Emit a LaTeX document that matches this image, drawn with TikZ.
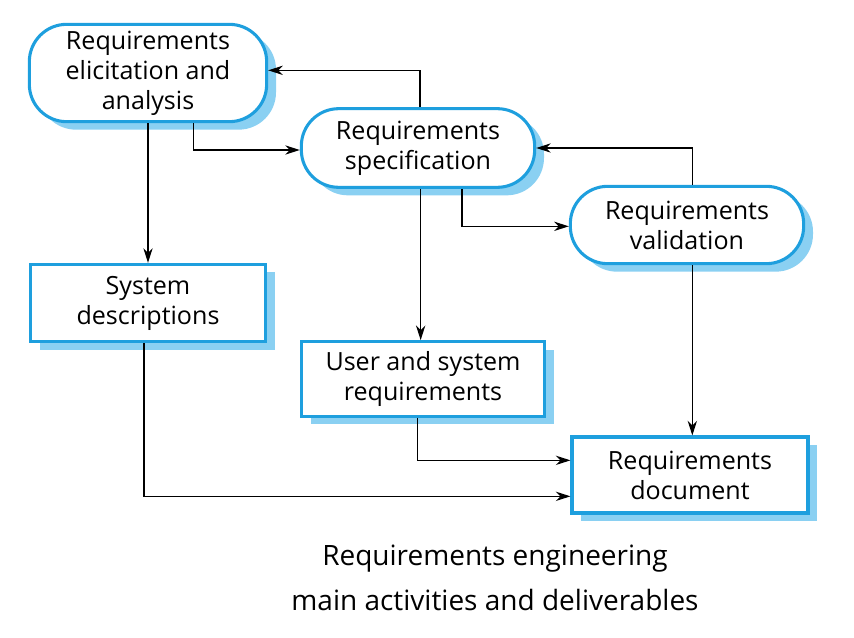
\documentclass[tikz,border=0pt]{standalone}
\usepackage{fontspec}
\setmainfont{Open Sans}
\usetikzlibrary{shadows,arrows.meta,positioning}
\definecolor{edge}{HTML}{1E9FDE}
\definecolor{shade}{HTML}{8AD0F2}

\begin{document}
\begin{tikzpicture}[x=0.75pt,y=-0.75pt,
  box/.style={draw=edge, line width=2.3pt, fill=white, align=center,
    font=\fontsize{18.8}{22.5}\selectfont, inner sep=0pt,
    drop shadow={shadow xshift=7pt, shadow yshift=-6pt, fill=shade, opacity=1}},
  activity/.style={box, rounded corners=28pt},
  deliverable/.style={box},
  flow/.style={line width=0.9pt, -{Stealth[length=11pt,width=7pt,inset=3.5pt]}}]
\useasboundingbox (0,0) rectangle (854,638);
\node[activity, minimum width=178pt, minimum height=73pt] (elic) at (148,73) {Requirements\\elicitation and\\analysis};
\node[activity, minimum width=175pt, minimum height=59pt] (spec) at (418,148) {Requirements\\specification};
\node[activity, minimum width=175pt, minimum height=58pt] (valid) at (687,225) {Requirements\\validation};
\node[deliverable, minimum width=176pt, minimum height=58pt] (sysdesc) at (148,303) {System\\descriptions};
\node[deliverable, minimum width=182pt, minimum height=56pt] (userreq) at (423,379) {User and system\\requirements};
\node[deliverable, minimum width=177pt, minimum height=57pt] (reqdoc) at (690,475) {Requirements\\document};
\draw[flow] ([xshift=1.5pt]spec.north) |- ([yshift=2pt]elic.east);
\draw[flow] ([xshift=34pt]elic.south) |- ([yshift=-1.5pt]spec.west);
\draw[flow] (elic.south) -- (sysdesc.north);
\draw[flow] ([xshift=2pt]spec.south) -- ([xshift=2pt]spec.south |- userreq.north);
\draw[flow] ([xshift=33pt]spec.south) |- ([yshift=-1pt]valid.west);
\draw[flow] ([xshift=4pt]valid.north) |- (spec.east);
\draw[flow] ([xshift=4pt]valid.south) -- ([xshift=4pt]valid.south |- reqdoc.north);
\draw[flow] ([xshift=-4pt]userreq.south) |- ([yshift=11pt]reqdoc.west);
\draw[flow] ([xshift=-3pt]sysdesc.south) |- ([yshift=-16pt]reqdoc.west);
\node[font=\fontsize{21}{34}\selectfont, align=center] (caption) at (495,578) {Requirements engineering\\main activities and deliverables};
\end{tikzpicture}
\end{document}
